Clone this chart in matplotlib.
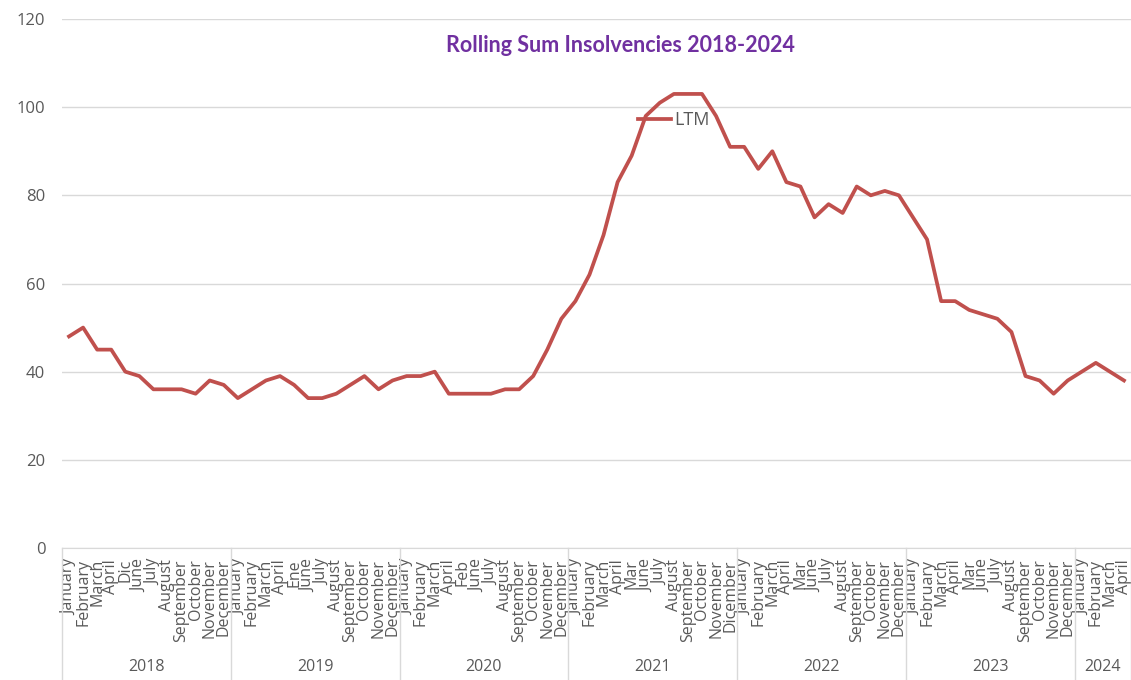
import matplotlib.pyplot as plt
from matplotlib import transforms

plt.rcParams['font.family'] = ['Open Sans', 'DejaVu Sans']

# Data
years = ['2018', '2019', '2020', '2021', '2022', '2023', '2024']
months_2018 = ['January', 'February', 'March', 'April', 'Dic', 'June', 'July', 'August',
               'September', 'October', 'November', 'December']
months_2019 = ['January', 'February', 'March', 'April', 'Ene', 'June', 'July', 'August',
               'September', 'October', 'November', 'December']
months_2020 = ['January', 'February', 'March', 'April', 'Feb', 'June', 'July', 'August',
               'September', 'October', 'November', 'December']
months_2021 = ['January', 'February', 'March', 'April', 'Mar', 'June', 'July', 'August',
               'September', 'October', 'November', 'Dicember']
months_2022 = ['January', 'February', 'March', 'April', 'Mar', 'June', 'July', 'August',
               'September', 'October', 'November', 'December']
months_2023 = ['January', 'February', 'March', 'April', 'Mar', 'June', 'July', 'August',
               'September', 'October', 'November', 'December']
months_2024 = ['January', 'February', 'March', 'April']
month_labels = [months_2018, months_2019, months_2020, months_2021,
                months_2022, months_2023, months_2024]

ltm = [48, 50, 45, 45, 40, 39, 36, 36, 36, 35, 38, 37,
       34, 36, 38, 39, 37, 34, 34, 35, 37, 39, 36, 38,
       39, 39, 40, 35, 35, 35, 35, 36, 36, 39, 45, 52,
       56, 62, 71, 83, 89, 98, 101, 103, 103, 103, 98, 91,
       91, 86, 90, 83, 82, 75, 78, 76, 82, 80, 81, 80,
       75, 70, 56, 56, 54, 53, 52, 49, 39, 38, 35, 38,
       40, 42, 40, 38]

labels = [m for group in month_labels for m in group]
x = list(range(len(labels)))

fig = plt.figure(figsize=(11.31, 6.8), dpi=100)
ax = fig.add_axes([62 / 1131, 1 - 548 / 680, 1 - 62 / 1131, 529 / 680])

ax.plot(x, ltm, color='#C0504D', linewidth=2.7, label='LTM', solid_joinstyle='round')

ax.set_xlim(-0.5, len(x) - 0.5)
ax.set_ylim(0, 120)
ax.set_yticks(range(0, 121, 20))
ax.grid(axis='y', color='#D9D9D9', linewidth=1)
ax.set_axisbelow(True)
for s in ['top', 'right', 'left']:
    ax.spines[s].set_visible(False)
ax.spines['bottom'].set_color('#D9D9D9')
ax.tick_params(axis='y', length=0, labelsize=12, labelcolor='#595959', pad=12)

ax.set_xticks(x)
ax.set_xticklabels(labels, rotation=90, fontsize=11.5, color='#595959', va='top')
ax.tick_params(axis='x', length=0, pad=8)

# year groups and separators
trans = transforms.blended_transform_factory(ax.transData, ax.transAxes)
bottom = -132 / 529
start = 0
ax.plot([-0.5, -0.5], [0, bottom], color='#D9D9D9', lw=1, transform=trans, clip_on=False)
for yr, group in zip(years, month_labels):
    end = start + len(group)
    ax.plot([end - 0.5, end - 0.5], [0, bottom], color='#D9D9D9', lw=1,
            transform=trans, clip_on=False)
    ax.text((start + end - 1) / 2, -119 / 529, yr, transform=trans, ha='center',
            va='center', fontsize=11.5, color='#595959')
    start = end

fig.text(620 / 1131, 1 - 45 / 680, 'Rolling Sum Insolvencies 2018-2024', ha='center',
         va='center', fontsize=15.5, fontweight='bold', color='#7030A0', family='Lato')

ax.legend(loc='center left', bbox_to_anchor=(622 / 1131, 1 - 120 / 680),
          bbox_transform=fig.transFigure, frameon=False, handlelength=1.8,
          handletextpad=0.2, prop={'size': 13}, labelcolor='#595959')

fig.savefig('out.png', dpi=100)
